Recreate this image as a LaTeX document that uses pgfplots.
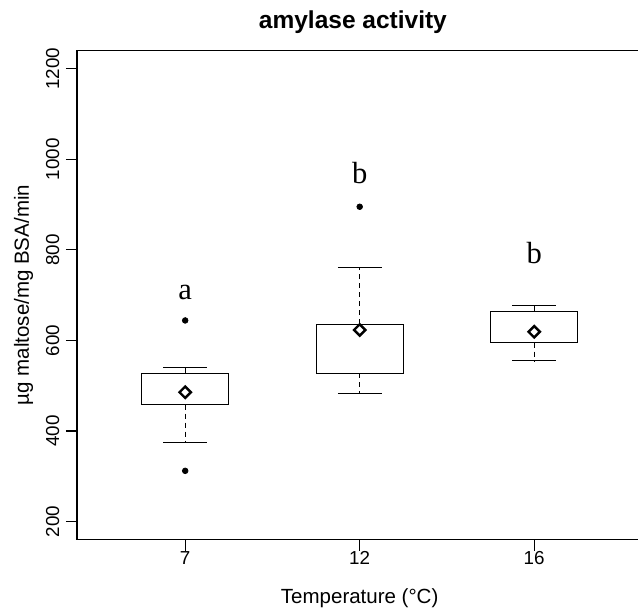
\documentclass[border=0pt]{standalone}
\usepackage{fontspec}
\setmainfont{Liberation Sans}
\newfontfamily\serifletters{Liberation Serif}
\usepackage{pgfplots}
\pgfplotsset{compat=1.18}

\begin{document}
\begin{tikzpicture}
\begin{axis}[
    scale only axis, width=282.69pt, height=244.6pt,
    xmin=0.38, xmax=3.62, ymin=160, ymax=1240,
    xtick={1,2,3}, xticklabels={7,12,16},
    ytick={200,400,600,800,1000,1200},
    xtick pos=lower, ytick pos=left,
    tick align=outside, major tick length=5.5pt,
    tick style={black, line width=0.55pt},
    axis line style={line width=0.6pt},
    clip=false,
    /pgf/number format/assume math mode=true,
    /pgf/number format/1000 sep={},
    tick label style={font=\fontsize{9.4}{10}\selectfont, inner sep=0pt},
    yticklabel style={rotate=90, anchor=south, inner xsep=0pt, inner ysep=3.2pt},
    xticklabel style={anchor=north},
    xlabel={Temperature (°C)},
    ylabel={µg maltose/mg BSA/min},
    title={amylase activity},
    every axis x label/.style={at={(axis description cs:0.5,0)}, anchor=base, yshift=-31.8pt, font=\fontsize{10.25}{12}\selectfont},
    every axis y label/.style={at={(axis description cs:0,0.5)}, xshift=-24pt, rotate=90, anchor=base, font=\fontsize{10.25}{12}\selectfont},
    every axis title/.style={at={(axis description cs:0.488,1)}, anchor=base, yshift=11.2pt, font=\bfseries\fontsize{12.25}{14}\selectfont},
]
\coordinate (O) at (rel axis cs:0,0);

% 7 degC
\addplot[black, line width=0.5pt] coordinates {(0.75,458) (1.25,458) (1.25,527) (0.75,527) (0.75,458)};
\addplot[black, line width=0.5pt, dash pattern=on 2.5pt off 2pt] coordinates {(1,527) (1,541)};
\addplot[black, line width=0.5pt, dash pattern=on 2.5pt off 2pt] coordinates {(1,458) (1,374)};
\addplot[black, line width=0.5pt] coordinates {(0.875,541) (1.125,541)};
\addplot[black, line width=0.5pt] coordinates {(0.875,374) (1.125,374)};

% 12 degC
\addplot[black, line width=0.5pt] coordinates {(1.75,527) (2.25,527) (2.25,636) (1.75,636) (1.75,527)};
\addplot[black, line width=0.5pt, dash pattern=on 2.5pt off 2pt] coordinates {(2,636) (2,762)};
\addplot[black, line width=0.5pt, dash pattern=on 2.5pt off 2pt] coordinates {(2,527) (2,483)};
\addplot[black, line width=0.5pt] coordinates {(1.875,762) (2.125,762)};
\addplot[black, line width=0.5pt] coordinates {(1.875,483) (2.125,483)};

% 16 degC
\addplot[black, line width=0.5pt] coordinates {(2.75,595) (3.25,595) (3.25,664) (2.75,664) (2.75,595)};
\addplot[black, line width=0.5pt, dash pattern=on 2.5pt off 2pt] coordinates {(3,664) (3,678)};
\addplot[black, line width=0.5pt, dash pattern=on 2.5pt off 2pt] coordinates {(3,595) (3,555)};
\addplot[black, line width=0.5pt] coordinates {(2.875,678) (3.125,678)};
\addplot[black, line width=0.5pt] coordinates {(2.875,555) (3.125,555)};

% outliers
\addplot[only marks, mark=*, mark size=1.4pt, black] coordinates {(1,644) (1,312) (2,895)};
% means
\addplot[only marks, mark=square, mark size=2pt, black,
  mark options={rotate=45, line width=1.2pt, fill=white}] coordinates {(1,485.5) (2,623) (3,619)};

\node[font=\serifletters\fontsize{15.3}{16}\selectfont, anchor=base] at (axis cs:1,691) {a};
\node[font=\serifletters\fontsize{15.3}{16}\selectfont, anchor=base] at (axis cs:2,947) {b};
\node[font=\serifletters\fontsize{15.3}{16}\selectfont, anchor=base] at (axis cs:3,770) {b};
\end{axis}
\pgfresetboundingbox
\path[use as bounding box] (O) ++(-38.5pt,-34.15pt) rectangle ++(319pt,304pt);
\end{tikzpicture}
\end{document}
